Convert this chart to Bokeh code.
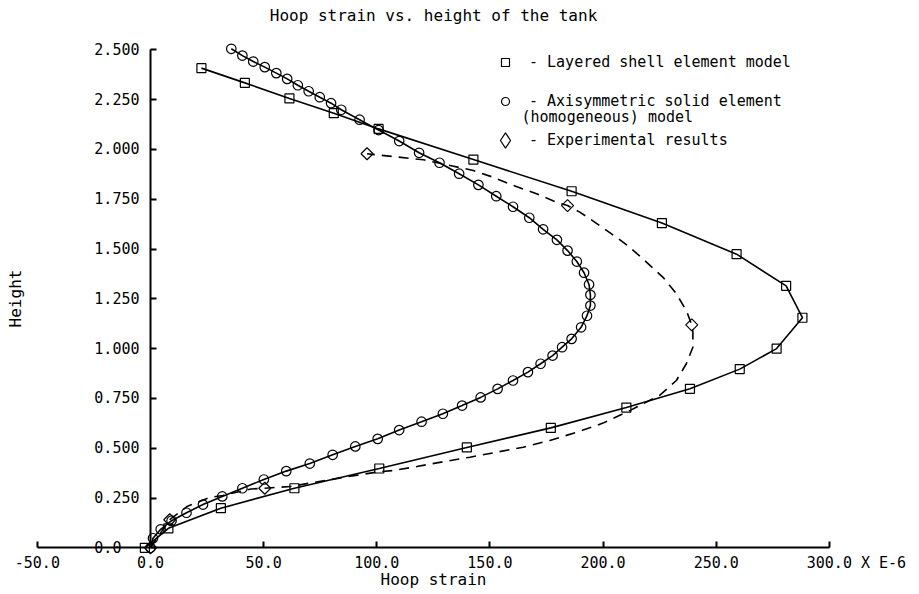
import math
from bokeh.plotting import figure
from bokeh.models import (Range1d, LinearAxis, FixedTicker, Legend, LegendItem, Label,
                          ColumnDataSource)
from bokeh.embed import file_html
from bokeh.resources import INLINE

FONT = "DejaVu Sans Mono"

# ---------------- data ----------------
x_ticks = [-50, 0, 50, 100, 150, 200, 250, 300]
x_tick_labels = ["-50.0", "0.0", "50.0", "100.0", "150.0", "200.0", "250.0", "300.0 X E-6"]
y_ticks = [0.0, 0.25, 0.5, 0.75, 1.0, 1.25, 1.5, 1.75, 2.0, 2.25, 2.5]
y_tick_labels = ["0.0", "0.250", "0.500", "0.750", "1.000", "1.250", "1.500",
                 "1.750", "2.000", "2.250", "2.500"]

# Layered shell element model (squares)
shell_strain = [22.5, 41.7, 61.4, 81.0, 100.8, 142.7, 186.1, 226.0, 259.0, 280.9, 288.1,
                276.7, 260.4, 238.4, 210.3, 176.9, 139.8, 101.1, 63.6, 31.1, 7.9, -2.5]
shell_height = [2.408, 2.334, 2.256, 2.182, 2.103, 1.949, 1.790, 1.630, 1.474, 1.315, 1.155,
                1.000, 0.897, 0.798, 0.704, 0.602, 0.504, 0.398, 0.299, 0.199, 0.098, 0.0]

# Axisymmetric solid element (homogeneous) model (circles)
axi_strain = [35.7, 40.6, 45.4, 50.5, 55.6, 60.4, 65.1, 69.9, 74.8, 79.8, 84.3, 92.4, 100.8,
              109.9, 118.7, 127.7, 136.4, 144.9, 152.8, 160.2, 167.4, 173.5, 179.6, 184.3,
              188.4, 191.6, 193.8, 194.4, 194.4, 192.9, 190.3, 186.1, 181.9, 177.7, 172.4,
              166.8, 160.2, 153.4, 145.9, 137.7, 129.2, 119.8, 109.9, 100.4, 90.5, 80.5,
              70.4, 60.0, 50.1, 40.6, 31.7, 23.2, 15.9, 9.3, 4.5, 1.1, 0.0]
axi_height = [2.505, 2.471, 2.441, 2.413, 2.383, 2.354, 2.322, 2.292, 2.262, 2.232, 2.199,
              2.149, 2.097, 2.042, 1.983, 1.933, 1.878, 1.822, 1.765, 1.712, 1.657, 1.599,
              1.546, 1.492, 1.437, 1.381, 1.322, 1.270, 1.216, 1.165, 1.107, 1.049, 1.007,
              0.965, 0.924, 0.882, 0.840, 0.798, 0.755, 0.714, 0.673, 0.633, 0.591, 0.547,
              0.509, 0.467, 0.423, 0.385, 0.343, 0.299, 0.258, 0.217, 0.176, 0.136, 0.093,
              0.048, 0.0]

# Experimental results (diamonds)
exp_strain = [0.0, 8.5, 50.5, 239.2, 184.3, 95.7]
exp_height = [0.0, 0.141, 0.299, 1.119, 1.718, 1.978]

# Experimental trend curve (dashed)
exp_curve_strain = [0.0, 8.5, 16.1, 25.8, 32.0, 44.4, 50.5, 61.9, 75.1, 85.0, 91.5, 102.0,
                    107.5, 117.7, 129.3, 141.2, 153.0, 164.7, 176.5, 188.3, 200.0, 212.0,
                    225.0, 232.4, 236.8, 239.7, 239.7, 239.2, 236.8, 232.4, 226.5, 218.4,
                    211.8, 205.9, 200.0, 194.1, 189.7, 184.3, 179.4, 170.6, 160.3, 151.5,
                    142.7, 132.4, 120.6, 107.4, 95.7]
exp_curve_height = [0.0, 0.141, 0.207, 0.252, 0.263, 0.295, 0.299, 0.308, 0.334, 0.353, 0.365,
                    0.383, 0.388, 0.408, 0.432, 0.455, 0.480, 0.505, 0.539, 0.580, 0.626, 0.690,
                    0.765, 0.840, 0.924, 1.007, 1.082, 1.119, 1.191, 1.275, 1.358, 1.442,
                    1.509, 1.559, 1.606, 1.652, 1.685, 1.718, 1.735, 1.777, 1.819, 1.860,
                    1.894, 1.919, 1.948, 1.964, 1.978]

title_text = "Hoop strain vs. height of the tank"
x_label = "Hoop strain"
y_label = "Height"
legend_labels = ["- Layered shell element model", "- Axisymmetric solid element",
                 "- Experimental results"]
legend_extra_line = "(homogeneous) model"

# ---------------- figure ----------------
W, H = 919, 594
p = figure(width=W, height=H, output_backend="svg", toolbar_location=None,
           x_range=Range1d(-66.29, 339.84), y_range=Range1d(-0.2344, 2.7475),
           x_axis_location=None, y_axis_location=None)
p.min_border = 0
p.min_border_left = 0
p.min_border_right = 0
p.min_border_top = 0
p.min_border_bottom = 0
p.outline_line_color = None
p.background_fill_color = "white"
p.border_fill_color = "white"
p.grid.visible = False

NB = "\u00a0"
x_over = {}
for t, lab in zip(x_ticks, x_tick_labels):
    if t == x_ticks[-1]:
        lab = NB * 6 + lab
    x_over[t] = lab
y_over = {}
for t, lab in zip(y_ticks, y_tick_labels):
    if len(lab) < 5:
        lab = lab + NB * (5 - len(lab))
    y_over[t] = lab

xaxis = LinearAxis(fixed_location=0, bounds=(-50, 300), ticker=FixedTicker(ticks=x_ticks),
                   major_label_overrides=x_over, axis_label=x_label)
yaxis = LinearAxis(fixed_location=0, bounds=(0, 2.5), ticker=FixedTicker(ticks=y_ticks),
                   major_label_overrides=y_over, axis_label=y_label)
for ax in (xaxis, yaxis):
    ax.axis_line_width = 2
    ax.axis_line_color = "black"
    ax.major_tick_line_color = "black"
    ax.major_tick_line_width = 2
    ax.major_tick_in = 6
    ax.major_tick_out = 0
    ax.minor_tick_line_color = None
    ax.major_label_text_font = FONT
    ax.major_label_text_font_size = "15px"
    ax.major_label_text_color = "black"
    ax.axis_label_text_font = FONT
    ax.axis_label_text_font_size = "16px"
    ax.axis_label_text_font_style = "normal"
    ax.axis_label_text_color = "black"
xaxis.major_label_standoff = 6
xaxis.axis_label_standoff = -5
yaxis.major_label_standoff = 11
yaxis.axis_label_standoff = 66
p.add_layout(xaxis, "below")
p.add_layout(yaxis, "left")

# curves
p.line(shell_strain, shell_height, line_color="black", line_width=1.6)
p.line(axi_strain, axi_height, line_color="black", line_width=1.6)
p.line(exp_curve_strain, exp_curve_height, line_color="black", line_width=1.6,
       line_dash="10 7")

r_sq = p.scatter(shell_strain, shell_height, marker="square", size=9,
                 fill_color="white", fill_alpha=0, line_color="black", line_width=1.2)
r_ci = p.scatter(axi_strain, axi_height, marker="circle", size=9.5,
                 fill_color="white", fill_alpha=0, line_color="black", line_width=1.2)
exp_src = ColumnDataSource(data=dict(x=exp_strain, y=exp_height))
r_di = p.scatter("x", "y", source=exp_src, marker="square", size=8.5, angle=math.pi / 4,
                 fill_color="white", fill_alpha=0, line_color="black", line_width=1.2)
# legend key for the experimental results: legend keys are drawn unrotated, so a
# zero-size diamond marker on the same points supplies the key symbol only
r_di_key = p.scatter("x", "y", source=exp_src, marker="diamond", size=0,
                     fill_color="white", fill_alpha=0, line_color="black",
                     line_width=1.2, line_cap="butt")

legend = Legend(items=[LegendItem(label=legend_labels[0], renderers=[r_sq]),
                       LegendItem(label=legend_labels[1], renderers=[r_ci])],
                location=(495, 483), orientation="vertical", padding=0, margin=0,
                spacing=19, glyph_width=20, glyph_height=20, label_height=20,
                label_standoff=14, label_text_font=FONT, label_text_font_size="15px",
                label_text_color="black", border_line_color=None,
                background_fill_alpha=0)
p.add_layout(legend)

legend2 = Legend(items=[LegendItem(label=legend_labels[2], renderers=[r_di_key])],
                 location=(486, 435), orientation="vertical", padding=0, margin=0,
                 glyph_width=38, glyph_height=38, label_height=38,
                 label_standoff=5, label_text_font=FONT, label_text_font_size="15px",
                 label_text_color="black", border_line_color=None,
                 background_fill_alpha=0)
p.add_layout(legend2)

p.add_layout(Label(x=521, y=H - 116, x_units="screen", y_units="screen",
                   text=legend_extra_line, text_font=FONT, text_font_size="15px",
                   text_baseline="middle", text_align="left", text_color="black"))
p.add_layout(Label(x=433, y=H - 15, x_units="screen", y_units="screen",
                   text=title_text, text_font=FONT, text_font_size="16px",
                   text_baseline="middle", text_align="center", text_color="black"))

open("out.html", "w").write(file_html(p, INLINE))
